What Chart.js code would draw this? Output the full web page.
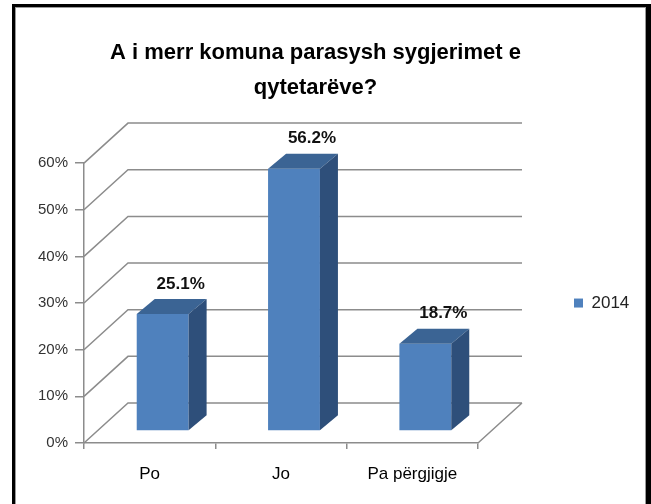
<!DOCTYPE html>
<html>
<head>
<meta charset="utf-8">
<script src="https://cdn.jsdelivr.net/npm/chart.js@4.4.1/dist/chart.umd.min.js"></script>
<style>
  html, body { margin: 0; padding: 0; background: #fff; overflow: hidden; }
  #wrap { position: relative; width: 651px; height: 504px; }
  #frame {
    position: absolute; left: 12px; top: 4px; width: 639px; height: 520px;
    box-sizing: border-box; border: 3px solid #000; border-right-width: 5px;
    box-shadow: inset 0 0 0 1px #9a9a9a; pointer-events: none;
  }
</style>
</head>
<body>
<div id="wrap">
  <canvas id="c" width="651" height="504"></canvas>
  <div id="frame"></div>
</div>
<script>
const TITLE_LINES = ["A i merr komuna parasysh sygjerimet e", "qytetarëve?"];
const CATEGORIES = ["Po", "Jo", "Pa përgjigje"];
const SERIES_NAME = "2014";
const VALUES = [25.1, 56.2, 18.7];
const Y_MAX = 60;
const Y_STEP = 10;

const FONT = "'Liberation Sans', Arial, sans-serif";
const FRONT = "#4F81BD", TOP = "#3B6494", SIDE = "#2E4F7A", GRID = "#8c8c8c";
const WALL = { dx: 44, dy: -40 };   // depth of the floor / side wall
const BAR_OFF = { dx: 13, dy: -12 }; // bar front face behind the front plane
const BAR_D = { dx: 18, dy: -15 };   // bar thickness

const depth3d = {
  id: "depth3d",
  beforeDatasetsDraw(chart) {
    const { ctx, chartArea: a, scales: { y } } = chart;
    ctx.save();
    ctx.strokeStyle = GRID;
    ctx.lineWidth = 1.5;
    ctx.beginPath();
    y.ticks.forEach((t) => {
      const py = y.getPixelForValue(t.value);
      ctx.moveTo(a.left, py);
      ctx.lineTo(a.left + WALL.dx, py + WALL.dy);
      ctx.lineTo(a.right + WALL.dx, py + WALL.dy);
    });
    ctx.moveTo(a.right, a.bottom);
    ctx.lineTo(a.right + WALL.dx, a.bottom + WALL.dy);
    ctx.stroke();
    ctx.restore();
    // front faces are drawn by Chart.js, pushed back into the depth
    ctx.save();
    ctx.translate(BAR_OFF.dx, BAR_OFF.dy);
  },
  afterDatasetsDraw(chart) {
    const { ctx } = chart;
    ctx.restore();
    const meta = chart.getDatasetMeta(0);
    meta.data.forEach((bar, i) => {
      const { x, y, base, width } = bar.getProps(["x", "y", "base", "width"], true);
      const l = x - width / 2 + BAR_OFF.dx, r = x + width / 2 + BAR_OFF.dx;
      const t = y + BAR_OFF.dy, b = base + BAR_OFF.dy;
      ctx.save();
      ctx.fillStyle = TOP;
      ctx.beginPath();
      ctx.moveTo(l, t);
      ctx.lineTo(l + BAR_D.dx, t + BAR_D.dy);
      ctx.lineTo(r + BAR_D.dx, t + BAR_D.dy);
      ctx.lineTo(r, t);
      ctx.closePath();
      ctx.fill();
      ctx.fillStyle = SIDE;
      ctx.beginPath();
      ctx.moveTo(r, t);
      ctx.lineTo(r + BAR_D.dx, t + BAR_D.dy);
      ctx.lineTo(r + BAR_D.dx, b + BAR_D.dy);
      ctx.lineTo(r, b);
      ctx.closePath();
      ctx.fill();
      // data label
      ctx.fillStyle = "#111";
      ctx.font = `bold 17px ${FONT}`;
      ctx.textAlign = "center";
      ctx.textBaseline = "middle";
      ctx.fillText(VALUES[i].toFixed(1) + "%", (l + r) / 2 + BAR_D.dx, t + BAR_D.dy - 15);
      ctx.restore();
    });
  },
};

new Chart(document.getElementById("c"), {
  type: "bar",
  data: {
    labels: CATEGORIES,
    datasets: [{
      label: SERIES_NAME,
      data: VALUES,
      backgroundColor: FRONT,
      borderWidth: 0,
      barPercentage: 0.395,
      categoryPercentage: 1,
      clip: false,
    }],
  },
  options: {
    responsive: false,
    animation: false,
    devicePixelRatio: 1,
    layout: { padding: { left: 0, right: 20, top: 0, bottom: 0 } },
    plugins: {
      title: {
        display: true,
        text: TITLE_LINES,
        color: "#000",
        font: { family: FONT, size: 22, weight: "bold", lineHeight: 1.57 },
        padding: { top: 36, bottom: 58 },
      },
      legend: {
        position: "right",
        fullSize: false,
        maxWidth: 153,
        labels: {
          boxWidth: 9, boxHeight: 9, padding: 96, color: "#222",
          font: { family: FONT, size: 17 },
        },
      },
      tooltip: { enabled: false },
    },
    scales: {
      x: {
        afterFit: (s) => { s.height = 61; },
        grid: { drawOnChartArea: false, drawTicks: true, tickLength: 6, color: GRID, lineWidth: 1.5, offset: true },
        border: { display: true, color: GRID, width: 1.5 },
        ticks: { color: "#000", padding: 15, font: { family: FONT, size: 17 } },
      },
      y: {
        min: 0, max: Y_MAX,
        afterFit: (s) => { s.width = 84; },
        grid: { drawOnChartArea: false, drawTicks: true, tickLength: 9, color: GRID, lineWidth: 1.5 },
        border: { display: true, color: GRID, width: 1.5 },
        ticks: { stepSize: Y_STEP, padding: 7, color: "#333", font: { family: FONT, size: 15 }, callback: (v) => v + "%" },
      },
    },
  },
  plugins: [depth3d],
});
</script>
</body>
</html>
